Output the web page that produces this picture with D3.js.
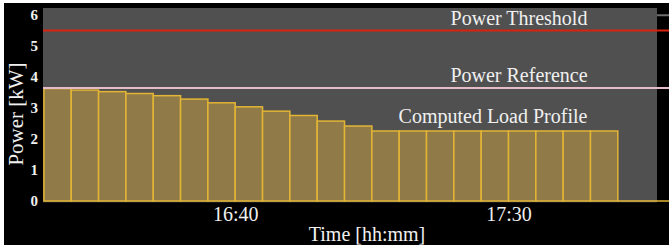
<!DOCTYPE html>
<html>
<head>
<meta charset="utf-8">
<script src="https://cdn.jsdelivr.net/npm/d3@7"></script>
<style>
  body { margin: 0; background: #fff; }
  text { font-family: "Liberation Serif", "Times New Roman", serif; fill: #f0f0f0; }
</style>
</head>
<body>
<div id="canvas"></div>
<script>
// 5 minute load profile slots
const slotStarts = ["16:05", "16:10", "16:15", "16:20", "16:25", "16:30", "16:35",
  "16:40", "16:45", "16:50", "16:55", "17:00", "17:05", "17:10", "17:15",
  "17:20", "17:25", "17:30", "17:35", "17:40", "17:45"];
const loadKw = [3.63, 3.58, 3.53, 3.47, 3.40, 3.29, 3.17, 3.04, 2.90, 2.76, 2.58,
  2.42, 2.26, 2.26, 2.26, 2.26, 2.26, 2.26, 2.26, 2.26, 2.26];
const slotMinutes = 5;
const thresholdKw = 5.5;
const referenceKw = 3.65;
const yTicks = [0, 1, 2, 3, 4, 5, 6];
const xTickLabels = ["16:40", "17:30"];
const xDomain = ["16:04:50", "17:57:10"];

const svgWidth = 669;
const svgHeight = 251;

const parseTime = d3.timeParse("%H:%M");
const parseSec = d3.timeParse("%H:%M:%S");

const svg = d3.select("#canvas").append("svg")
    .attr("width", svgWidth)
    .attr("height", svgHeight);

// black panel with white margin
svg.append("rect")
    .attr("x", 4).attr("y", 3)
    .attr("width", svgWidth - 4).attr("height", 242)
    .attr("fill", "#000");

const x = d3.scaleTime()
    .domain(xDomain.map(parseSec))
    .range([43, 657]);

const y = d3.scaleLinear()
    .domain([0, 6.23])
    .range([201, 8]);

// gridline at top, only peeks out beyond the plot
svg.append("line")
    .attr("x1", 43).attr("x2", svgWidth)
    .attr("y1", y(6)).attr("y2", y(6))
    .attr("stroke", "#6e6e6e").attr("stroke-width", 2);

// plot background
svg.append("rect")
    .attr("x", x.range()[0]).attr("y", y.range()[1])
    .attr("width", x.range()[1] - x.range()[0])
    .attr("height", y.range()[0] - y.range()[1])
    .attr("fill", "#505050");

// bottom axis line
svg.append("line")
    .attr("x1", 43).attr("x2", 657)
    .attr("y1", y(0) + 0.5).attr("y2", y(0) + 0.5)
    .attr("stroke", "#5e5e5e").attr("stroke-width", 1.5);

const bars = slotStarts.map((s, i) => {
    const t0 = parseTime(s);
    return { t0: t0, t1: d3.timeMinute.offset(t0, slotMinutes), v: loadKw[i] };
});

svg.selectAll("rect.bar")
    .data(bars)
    .enter()
    .append("rect")
    .attr("class", "bar")
    .attr("x", d => x(d.t0))
    .attr("y", d => y(d.v))
    .attr("width", d => x(d.t1) - x(d.t0))
    .attr("height", d => y(0) - y(d.v))
    .attr("fill", "#8f7a48")
    .attr("stroke", "#e3b535")
    .attr("stroke-width", 1.5);

// zero tail of the profile after the last slot
const lastEnd = bars[bars.length - 1].t1;
svg.append("line")
    .attr("x1", x(lastEnd)).attr("x2", svgWidth)
    .attr("y1", y(0)).attr("y2", y(0))
    .attr("stroke", "#e3b535").attr("stroke-width", 1.5);

// threshold and reference lines
svg.append("line")
    .attr("x1", 43).attr("x2", svgWidth)
    .attr("y1", y(thresholdKw)).attr("y2", y(thresholdKw))
    .attr("stroke", "#d8230f").attr("stroke-width", 2);
svg.append("line")
    .attr("x1", 43).attr("x2", svgWidth)
    .attr("y1", y(referenceKw)).attr("y2", y(referenceKw))
    .attr("stroke", "#e6bcc6").attr("stroke-width", 2);

// axes
const yAxis = d3.axisLeft(y).tickValues(yTicks).tickFormat(d3.format("d"))
    .tickSize(0).tickPadding(0);
const gy = svg.append("g")
    .attr("transform", "translate(38,0)")
    .call(yAxis);
gy.select(".domain").remove();
gy.selectAll("text")
    .style("font-family", "Liberation Serif, serif")
    .style("font-size", "15px")
    .style("font-weight", "bold")
    .attr("fill", "#f0f0f0");

const xAxis = d3.axisBottom(x)
    .tickValues(xTickLabels.map(parseTime))
    .tickFormat(d3.timeFormat("%H:%M"))
    .tickSize(0).tickPadding(0);
const gx = svg.append("g")
    .attr("transform", "translate(0,207)")
    .call(xAxis);
gx.select(".domain").remove();
gx.selectAll("text")
    .style("font-family", "Liberation Serif, serif")
    .style("font-size", "20px")
    .attr("fill", "#f0f0f0");

// labels
svg.append("text")
    .attr("x", 367).attr("y", 241)
    .attr("text-anchor", "middle")
    .style("font-size", "20px")
    .text("Time [hh:mm]");

svg.append("text")
    .attr("transform", "translate(23,114) rotate(-90)")
    .attr("text-anchor", "middle")
    .style("font-size", "21px")
    .text("Power [kW]");

svg.append("text")
    .attr("x", 519).attr("y", 25)
    .attr("text-anchor", "middle")
    .style("font-size", "20px")
    .text("Power Threshold");

svg.append("text")
    .attr("x", 519).attr("y", 82)
    .attr("text-anchor", "middle")
    .style("font-size", "20px")
    .text("Power Reference");

svg.append("text")
    .attr("x", 493).attr("y", 123)
    .attr("text-anchor", "middle")
    .style("font-size", "20px")
    .text("Computed Load Profile");
</script>
</body>
</html>
